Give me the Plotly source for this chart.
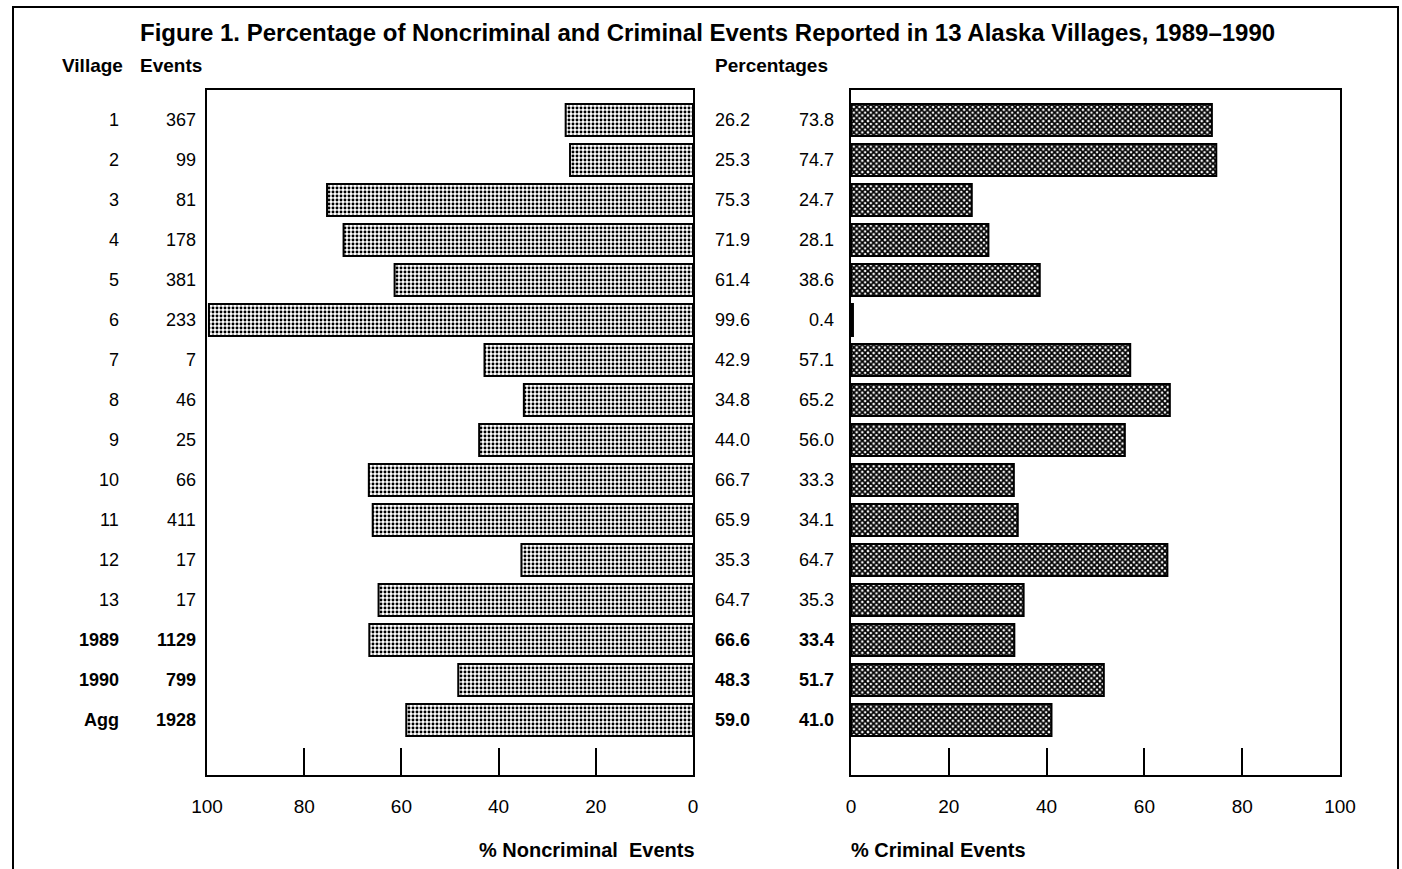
import plotly.graph_objects as go

# ---- data ----
villages = ["1", "2", "3", "4", "5", "6", "7", "8", "9", "10", "11", "12", "13", "1989", "1990", "Agg"]
events = [367, 99, 81, 178, 381, 233, 7, 46, 25, 66, 411, 17, 17, 1129, 799, 1928]
noncriminal = [26.2, 25.3, 75.3, 71.9, 61.4, 99.6, 42.9, 34.8, 44.0, 66.7, 65.9, 35.3, 64.7, 66.6, 48.3, 59.0]
criminal = [73.8, 74.7, 24.7, 28.1, 38.6, 0.4, 57.1, 65.2, 56.0, 33.3, 34.1, 64.7, 35.3, 33.4, 51.7, 41.0]
bold_rows = ["1989", "1990", "Agg"]
tick_vals = [0, 20, 40, 60, 80, 100]

W, H = 1402, 869
FONT = "Liberation Sans, Arial, sans-serif"
rows = list(range(len(villages)))

def px(x):
    return x / W

def py(y):
    return 1 - y / H

fig = go.Figure()

fig.add_trace(go.Bar(
    y=rows, x=noncriminal, orientation="h", width=0.8,
    marker=dict(color="white", line=dict(color="black", width=2),
                pattern=dict(shape=".", fgcolor="black", bgcolor="white", size=4, solidity=0.42)),
    xaxis="x", yaxis="y", showlegend=False, hoverinfo="x",
))
fig.add_trace(go.Bar(
    y=rows, x=criminal, orientation="h", width=0.8,
    marker=dict(color="white", line=dict(color="black", width=2),
                pattern=dict(shape="x", fgcolor="black", bgcolor="white", size=4, solidity=0.7)),
    xaxis="x2", yaxis="y2", showlegend=False, hoverinfo="x",
))

axis_common = dict(
    showline=True, linecolor="black", linewidth=2, mirror=True,
    ticks="inside", ticklen=27, tickwidth=2, tickcolor="black",
    tickvals=tick_vals, showgrid=False, zeroline=False, automargin=False,
    tickfont=dict(family=FONT, size=19, color="black"),
    ticklabelstandoff=13,
)
yrange = [len(villages) + 0.375, -0.75]
y_common = dict(range=yrange, showticklabels=False, ticks="", showgrid=False,
                zeroline=False, showline=True, linecolor="black", linewidth=2,
                mirror=True, automargin=False,
                domain=[py(775), py(90)])

annotations = []
for i, (v, e, n, c) in enumerate(zip(villages, events, noncriminal, criminal)):
    b = v in bold_rows
    f = dict(family=FONT, size=18, color="black")
    txt = (lambda s: f"<b>{s}</b>" if b else s)
    for xpos, s in [(121, v), (198, str(e)), (752, f"{n:.1f}"), (836, f"{c:.1f}")]:
        annotations.append(dict(x=px(xpos), xref="paper", xanchor="right",
                                y=i, yref="y", yanchor="middle",
                                text=txt(s), showarrow=False, font=f))

hdr = dict(family=FONT, size=19, color="black")
for xpos, s in [(92, "Village"), (171, "Events"), (771, "Percentages")]:
    annotations.append(dict(x=px(xpos), xref="paper", xanchor="center",
                            y=py(65), yref="paper", yanchor="middle",
                            text=f"<b>{s}</b>", showarrow=False, font=hdr))

annotations.append(dict(x=px(697), xref="paper", xanchor="right", y=py(850), yref="paper",
                        yanchor="middle", text="<b>% Noncriminal  Events</b>", showarrow=False,
                        font=dict(family=FONT, size=20, color="black")))
annotations.append(dict(x=px(849), xref="paper", xanchor="left", y=py(850), yref="paper",
                        yanchor="middle", text="<b>% Criminal Events</b>", showarrow=False,
                        font=dict(family=FONT, size=20, color="black")))
annotations.append(dict(x=px(707), xref="paper", xanchor="center", y=py(32), yref="paper",
                        yanchor="middle",
                        text="<b>Figure 1. Percentage of Noncriminal and Criminal Events Reported in 13 Alaska Villages, 1989\u20131990</b>",
                        showarrow=False, font=dict(family=FONT, size=24, color="black")))

fig.update_layout(
    template="none",
    width=W, height=H,
    margin=dict(l=0, r=0, t=0, b=0, pad=0, autoexpand=False),
    paper_bgcolor="white", plot_bgcolor="white",
    xaxis=dict(domain=[px(207), px(693)], range=[100, 0], anchor="y", **axis_common),
    yaxis=dict(anchor="x", **y_common),
    xaxis2=dict(domain=[px(851), px(1340)], range=[0, 100], anchor="y2", **axis_common),
    yaxis2=dict(anchor="x2", matches="y", **y_common),
    annotations=annotations,
    shapes=[dict(type="rect", xref="paper", yref="paper",
                 x0=px(13), x1=px(1398), y0=-0.05, y1=py(7),
                 line=dict(color="black", width=2), fillcolor="rgba(0,0,0,0)")],
    font=dict(family=FONT, color="black"),
)

fig.write_html("out.html", config={"displayModeBar": False},
               post_script="document.body.style.margin='0';")
